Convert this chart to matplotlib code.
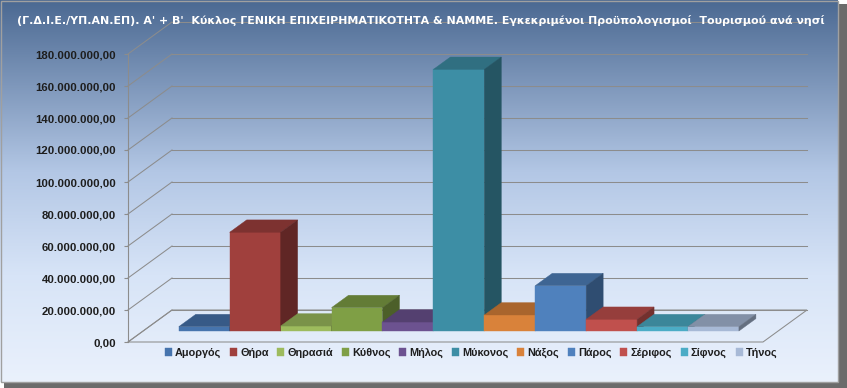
import numpy as np
import matplotlib
matplotlib.use("Agg")
import matplotlib.pyplot as plt
from matplotlib.colors import LinearSegmentedColormap, to_rgb
from matplotlib.patches import Polygon, Rectangle
from matplotlib.ticker import FuncFormatter

# --- data ---
islands = ["Αμοργός", "Θήρα", "Θηρασιά", "Κύθνος", "Μήλος", "Μύκονος",
           "Νάξος", "Πάρος", "Σέριφος", "Σίφνος", "Τήνος"]
budgets = [2.7e6, 61.7e6, 3.1e6, 14.6e6, 5.6e6, 163.5e6,
           10.0e6, 28.3e6, 7.3e6, 2.7e6, 2.7e6]
bar_colors = ["#4674ad", "#a0403d", "#9dbb5d", "#7f9f45", "#6c5290", "#3d8ea5",
              "#d9823a", "#4f81bd", "#c0504d", "#4bacc6", "#a7b9d6"]
yticks = np.arange(0, 180e6 + 1, 20e6)
title = ("(Γ.Δ.Ι.Ε./ΥΠ.ΑΝ.ΕΠ). Α' + Β'  Κύκλος ΓΕΝΙΚΗ ΕΠΙΧΕΙΡΗΜΑΤΙΚΟΤΗΤΑ & ΝΑΜΜΕ. "
         "Εγκεκριμένοι Προϋπολογισμοί  Τουρισμού ανά νησί")

plt.rcParams['font.family'] = ['Liberation Sans', 'DejaVu Sans']
plt.rcParams['font.weight'] = 'bold'


def greek(v, pos=None):
    s = f"{v:,.2f}"
    return s.replace(",", "X").replace(".", ",").replace("X", ".")


def shade(c, f):
    r, g, b = to_rgb(c)
    return (r * f, g * f, b * f)


W, H = 847, 388
fig = plt.figure(figsize=(W / 100, H / 100), dpi=100)
fig.patch.set_facecolor('white')

# background panel with drop shadow and gradient
bg = fig.add_axes([0, 0, 1, 1])
bg.add_patch(Rectangle((4, 4), W - 4, H - 4, color='#6b6b6b', lw=0, zorder=0))
grad = LinearSegmentedColormap.from_list(
    'bg', [(0, '#4b6992'), (0.45, '#b3c7e5'), (0.72, '#d7e4f7'), (1, '#eaf1fc')])
bg.imshow(np.linspace(0, 1, 256).reshape(-1, 1), cmap=grad,
          extent=(0, 838, 382, 0), aspect='auto', zorder=1)
bg.add_patch(Rectangle((0.5, 0.5), 837.5, 381.5, fill=False, ec='#a0a0a0',
                       lw=1, zorder=2))
bg.set_xlim(0, W)
bg.set_ylim(H, 0)
bg.axis('off')

# main axes = front plane of the 3D box
FLOOR = 12.47          # floor width in bar units
DU, DV = 0.864, 20e6   # full depth offset (x in bar units, y in value units)
Z0, Z1 = 0.344, 0.73   # front / back depth of the bars

ax = fig.add_axes([128 / W, (H - 342) / H, 635 / W, 288 / H])
ax.set_xlim(0, FLOOR)
ax.set_ylim(0, 180e6)
ax.patch.set_visible(False)
for s in ['top', 'right', 'bottom']:
    ax.spines[s].set_visible(False)
ax.spines['left'].set_color('#8c8c8c')
ax.spines['left'].set_linewidth(0.8)
ax.set_xticks([])
ax.set_yticks(yticks)
ax.yaxis.set_major_formatter(FuncFormatter(greek))
ax.tick_params(axis='y', length=3, width=0.8, color='#8c8c8c', pad=5.5,
               labelsize=8.2, labelcolor='#1e1e1e')

# walls
line_kw = dict(color='#8c8c8c', lw=0.75, clip_on=False, zorder=1)
for v in yticks:
    ax.plot([0, DU], [v, v + DV], **line_kw)
    ax.plot([DU, FLOOR + DU], [v + DV, v + DV], **line_kw)
ax.add_patch(Polygon([(0, 0), (FLOOR, 0), (FLOOR + DU, DV), (DU, DV)],
                     closed=True, fill=False, ec='#8c8c8c', lw=0.75,
                     clip_on=False, zorder=1))

# bars
pos = 0.70 + np.arange(len(islands))
d = Z1 - Z0
for i, (name, val, col) in enumerate(zip(islands, budgets, bar_colors)):
    x0 = pos[i] + Z0 * DU
    y0 = Z0 * DV
    ax.bar(x0, val, width=1, bottom=y0, align='edge', color=col,
           ec=col, lw=0.3, label=name, zorder=3 + i, clip_on=False)
    top = [(x0, y0 + val), (x0 + 1, y0 + val),
           (x0 + 1 + d * DU, y0 + val + d * DV), (x0 + d * DU, y0 + val + d * DV)]
    side = [(x0 + 1, y0), (x0 + 1 + d * DU, y0 + d * DV),
            (x0 + 1 + d * DU, y0 + val + d * DV), (x0 + 1, y0 + val)]
    tc, sc = shade(col, 0.78), shade(col, 0.6)
    ax.add_patch(Polygon(top, fc=tc, ec=tc, lw=0.3, zorder=3 + i, clip_on=False))
    ax.add_patch(Polygon(side, fc=sc, ec=sc, lw=0.3, zorder=3 + i, clip_on=False))

ax.legend(loc='center', bbox_to_anchor=(471 / W, 1 - 353 / H),
          bbox_transform=fig.transFigure, ncol=len(islands), frameon=False,
          fontsize=7.8, handlelength=0.65, handleheight=0.65, handletextpad=0.3,
          columnspacing=0.8, labelcolor='#1e1e1e')

t = fig.text(421 / W, 1 - 20 / H, title, ha='center', va='center',
             color='white', fontsize=11,
             family=['Liberation Sans Narrow', 'DejaVu Sans'])
fig.canvas.draw()
bb = t.get_window_extent()
t.set_fontsize(t.get_fontsize() * 799 / bb.width)

fig.savefig('out.png', dpi=100)
